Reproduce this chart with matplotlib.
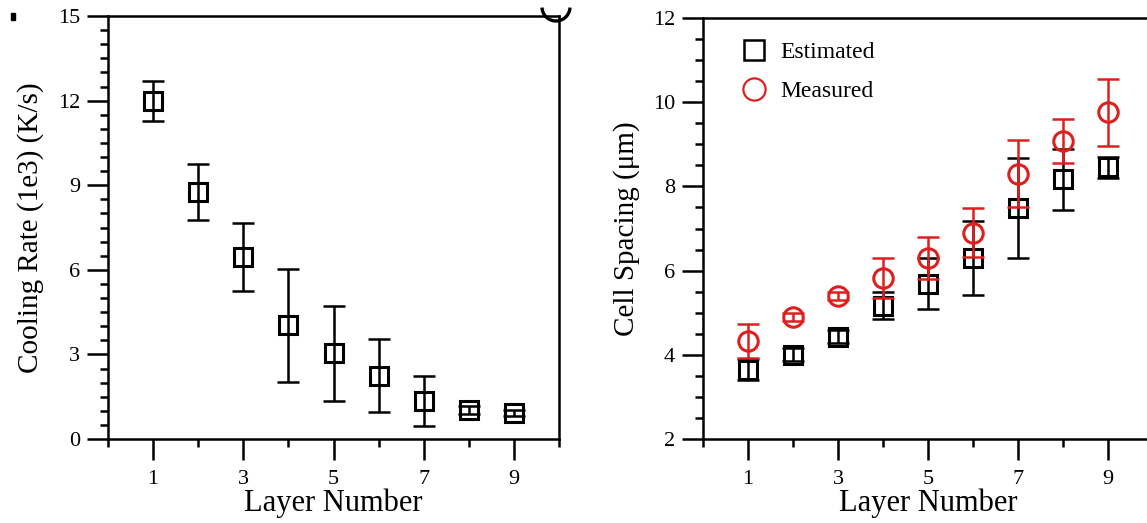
"""Cooling rate and cell spacing vs layer number."""
import numpy as np
import matplotlib
matplotlib.use('Agg')
import matplotlib.pyplot as plt
from matplotlib.ticker import MultipleLocator, FixedLocator
from matplotlib.lines import Line2D
from matplotlib.patches import Arc, Rectangle

plt.rcParams['font.family'] = ['Liberation Serif', 'DejaVu Serif']

layers = [1, 2, 3, 4, 5, 6, 7, 8, 9]

# left panel: cooling rate (1e3 K/s)
cool_rate = [12.0, 8.75, 6.45, 4.03, 3.04, 2.25, 1.35, 1.03, 0.93]
cool_err = [0.71, 1.0, 1.2, 2.0, 1.68, 1.3, 0.9, 0.15, 0.1]

# right panel: cell spacing (um)
est_spacing = [3.65, 4.0, 4.43, 5.17, 5.69, 6.3, 7.49, 8.17, 8.45]
est_err = [0.25, 0.15, 0.15, 0.33, 0.6, 0.88, 1.18, 0.73, 0.25]
meas_spacing = [4.32, 4.9, 5.4, 5.82, 6.3, 6.9, 8.3, 9.07, 9.76]
meas_err = [0.4, 0.1, 0.1, 0.48, 0.5, 0.58, 0.8, 0.52, 0.8]

RED = '#dc2020'
W, H = 1147, 523
fig = plt.figure(figsize=(W / 100, H / 100), dpi=100)
ax1 = fig.add_axes([108 / W, 84 / H, 451 / W, 423 / H])
ax2 = fig.add_axes([703 / W, 84 / H, 450 / W, 421 / H])


def style(ax):
    for sp in ax.spines.values():
        sp.set_linewidth(1.8)
    ax.xaxis.set_major_locator(FixedLocator([1, 3, 5, 7, 9]))
    ax.xaxis.set_minor_locator(MultipleLocator(1))
    ax.yaxis.set_minor_locator(MultipleLocator(0.5))
    ax.tick_params(which='major', direction='out', length=15, width=1.8,
                   labelsize=16, pad=5, top=False, right=False)
    ax.tick_params(axis='x', which='major', pad=7)
    ax.tick_params(which='minor', direction='out', length=6, width=1.8,
                   top=False, right=False)
    ax.set_xlim(0, 10)
    ax.set_xlabel('Layer Number', fontsize=22, labelpad=0)


# left panel
ax1.errorbar(layers, cool_rate, yerr=cool_err, fmt='none', ecolor='black',
             elinewidth=1.8, capsize=8, capthick=1.8, zorder=2)
ax1.plot(layers, cool_rate, 's', ms=13, mfc='none', mec='black', mew=2.2, zorder=3)
style(ax1)
ax1.set_ylim(0, 15)
ax1.yaxis.set_major_locator(MultipleLocator(3))
ax1.set_ylabel('Cooling Rate (1e3) (K/s)', fontsize=21, labelpad=10)

# right panel
ax2.errorbar(layers, est_spacing, yerr=est_err, fmt='none', ecolor='black',
             elinewidth=1.8, capsize=8, capthick=1.8, zorder=2)
ax2.plot(layers, est_spacing, 's', ms=13, mfc='none', mec='black', mew=2.2, zorder=3)
ax2.errorbar(layers, meas_spacing, yerr=meas_err, fmt='none', ecolor=RED,
             elinewidth=1.8, capsize=8, capthick=1.8, zorder=4)
ax2.plot(layers, meas_spacing, 'o', ms=14, mfc='none', mec=RED, mew=2.2, zorder=5)
style(ax2)
ax2.set_ylim(2, 12)
ax2.yaxis.set_major_locator(MultipleLocator(2))
ax2.set_ylabel('Cell Spacing (\u03bcm)', fontsize=21, labelpad=9)

handles = [Line2D([], [], ls='none', marker='s', ms=15, mfc='none', mec='black', mew=1.8),
           Line2D([], [], ls='none', marker='o', ms=16, mfc='none', mec=RED, mew=1.6)]
ax2.legend(handles, ['Estimated', 'Measured'], loc='upper left', frameon=False,
           fontsize=17, bbox_to_anchor=(0.035, 0.995), handlelength=1.2,
           handletextpad=0.5, labelspacing=0.75)

# cropped remnants at the top edge of the source figure
fig.patches.append(Arc((556 / W, 1 - 7 / H), 28 / W, 28 / H, theta1=185, theta2=355,
                       lw=2.4, color='black', transform=fig.transFigure))
fig.patches.append(Rectangle((11 / W, 1 - 20 / H), 4 / W, 7 / H, color='black',
                             transform=fig.transFigure))

fig.savefig('out.png', dpi=100)
